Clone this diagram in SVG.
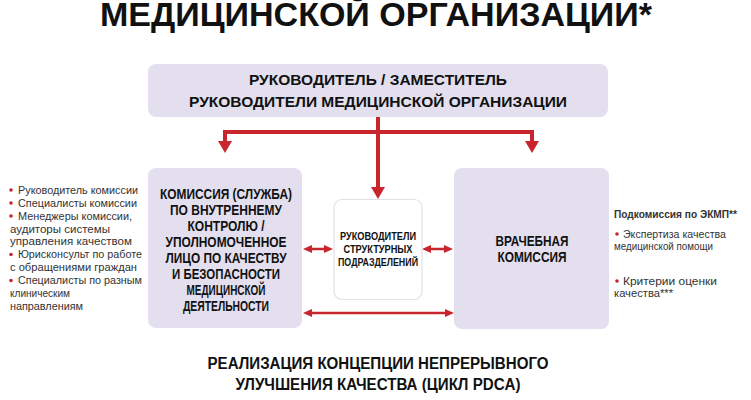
<svg xmlns="http://www.w3.org/2000/svg" width="751" height="400" viewBox="0 0 751 400">
<defs>
<style>
.box{fill:#e3dfee}
.mid{fill:#ffffff;stroke:#e2dfe8;stroke-width:1.2}
.h{font-family:"Liberation Sans",Arial,sans-serif;font-weight:bold;fill:#111;text-anchor:middle}
.l{font-family:"Liberation Sans",Arial,sans-serif;font-size:10.5px;fill:#333}
.b{fill:#c9252c}
.c{stroke:#c9252c;fill:none}
</style>
<marker id="big" markerUnits="userSpaceOnUse" markerWidth="14" markerHeight="14" viewBox="0 0 12 14" refX="0" refY="7" orient="auto"><path d="M0,0 L12,7 L0,14 z" fill="#c9252c"/></marker>
<marker id="sm" markerUnits="userSpaceOnUse" markerWidth="9" markerHeight="8" viewBox="0 0 9 8" refX="0" refY="4" orient="auto-start-reverse"><path d="M0,0 L9,4 L0,8 z" fill="#c9252c"/></marker>
</defs>
<rect width="751" height="400" fill="#ffffff"/>
<text class="h" x="376" y="26" font-size="33" textLength="552" lengthAdjust="spacingAndGlyphs">МЕДИЦИНСКОЙ ОРГАНИЗАЦИИ*</text>

<g id="connectors">
<path class="c" stroke-width="4" d="M378,117 V187"/>
<path class="c" stroke-width="4" d="M223,132 H534"/>
<path class="c" stroke-width="4" d="M225,130 V141" marker-end="url(#big)"/>
<path class="c" stroke-width="4" d="M532,130 V141" marker-end="url(#big)"/>
<path class="c" stroke-width="4" d="M378,130 V187" marker-end="url(#big)"/>
<path class="c" stroke-width="2.5" d="M312,249 H324" marker-start="url(#sm)" marker-end="url(#sm)"/>
<path class="c" stroke-width="2.5" d="M431,249 H444" marker-start="url(#sm)" marker-end="url(#sm)"/>
<path class="c" stroke-width="2.5" d="M312,313 H445" marker-start="url(#sm)" marker-end="url(#sm)"/>
</g>

<g id="top">
<rect class="box" x="148" y="64" width="460" height="53" rx="8"/>
<text class="h" x="378" y="85" font-size="15.5" textLength="258" lengthAdjust="spacingAndGlyphs">РУКОВОДИТЕЛЬ / ЗАМЕСТИТЕЛЬ</text>
<text class="h" x="378" y="107" font-size="15.5" textLength="378" lengthAdjust="spacingAndGlyphs">РУКОВОДИТЕЛИ МЕДИЦИНСКОЙ ОРГАНИЗАЦИИ</text>
</g>

<g id="commission">
<rect class="box" x="148" y="168" width="154" height="160" rx="8"/>
<text class="h" font-size="14">
<tspan x="226" y="199" textLength="132" lengthAdjust="spacingAndGlyphs">КОМИССИЯ (СЛУЖБА)</tspan>
</text>
<text class="h" font-size="14" x="226" y="215" textLength="112" lengthAdjust="spacingAndGlyphs">ПО ВНУТРЕННЕМУ</text>
<text class="h" font-size="14" x="226" y="231" textLength="77" lengthAdjust="spacingAndGlyphs">КОНТРОЛЮ /</text>
<text class="h" font-size="14" x="226" y="247" textLength="121" lengthAdjust="spacingAndGlyphs">УПОЛНОМОЧЕННОЕ</text>
<text class="h" font-size="14" x="226" y="263" textLength="121" lengthAdjust="spacingAndGlyphs">ЛИЦО ПО КАЧЕСТВУ</text>
<text class="h" font-size="14" x="226" y="279" textLength="108" lengthAdjust="spacingAndGlyphs">И БЕЗОПАСНОСТИ</text>
<text class="h" font-size="14" x="226" y="295" textLength="79" lengthAdjust="spacingAndGlyphs">МЕДИЦИНСКОЙ</text>
<text class="h" font-size="14" x="226" y="311" textLength="86" lengthAdjust="spacingAndGlyphs">ДЕЯТЕЛЬНОСТИ</text>
</g>

<g id="heads">
<rect class="mid" x="334" y="199.5" width="88" height="100" rx="8"/>
<text class="h" font-size="10.5" x="378" y="240" textLength="76" lengthAdjust="spacingAndGlyphs">РУКОВОДИТЕЛИ</text>
<text class="h" font-size="10.5" x="378" y="253" textLength="69" lengthAdjust="spacingAndGlyphs">СТРУКТУРНЫХ</text>
<text class="h" font-size="10.5" x="378" y="265.5" textLength="80" lengthAdjust="spacingAndGlyphs">ПОДРАЗДЕЛЕНИЙ</text>
</g>

<g id="medical">
<rect class="box" x="454" y="168" width="155" height="161" rx="8"/>
<text class="h" font-size="14" x="532" y="246" textLength="73" lengthAdjust="spacingAndGlyphs">ВРАЧЕБНАЯ</text>
<text class="h" font-size="14" x="532" y="262" textLength="69" lengthAdjust="spacingAndGlyphs">КОМИССИЯ</text>
</g>

<g id="left-list">
<circle class="b" cx="11" cy="190" r="1.8"/>
<circle class="b" cx="11" cy="203" r="1.8"/>
<circle class="b" cx="11" cy="216" r="1.8"/>
<circle class="b" cx="11" cy="254.5" r="1.8"/>
<circle class="b" cx="11" cy="280.5" r="1.8"/>
<text class="l" x="18" y="193.5" textLength="120" lengthAdjust="spacingAndGlyphs">Руководитель комиссии</text>
<text class="l" x="18" y="206.5" textLength="119" lengthAdjust="spacingAndGlyphs">Специалисты комиссии</text>
<text class="l" x="18" y="219.5" textLength="114" lengthAdjust="spacingAndGlyphs">Менеджеры комиссии,</text>
<text class="l" x="10" y="232.5" textLength="100" lengthAdjust="spacingAndGlyphs">аудиторы системы</text>
<text class="l" x="10" y="245" textLength="122" lengthAdjust="spacingAndGlyphs">управления качеством</text>
<text class="l" x="18" y="258" textLength="124" lengthAdjust="spacingAndGlyphs">Юрисконсульт по работе</text>
<text class="l" x="10" y="271" textLength="127" lengthAdjust="spacingAndGlyphs">с обращениями граждан</text>
<text class="l" x="18" y="284" textLength="124" lengthAdjust="spacingAndGlyphs">Специалисты по разным</text>
<text class="l" x="10" y="296.5" textLength="60" lengthAdjust="spacingAndGlyphs">клиническим</text>
<text class="l" x="10" y="309.5" textLength="73" lengthAdjust="spacingAndGlyphs">направлениям</text>
</g>

<g id="right-list">
<text class="l" x="614" y="217.5" font-weight="bold" fill="#111" textLength="123" lengthAdjust="spacingAndGlyphs">Подкомиссия по ЭКМП**</text>
<circle class="b" cx="617" cy="234" r="1.8"/>
<circle class="b" cx="617" cy="281" r="1.8"/>
<text class="l" x="623" y="237.5" textLength="103" lengthAdjust="spacingAndGlyphs">Экспертиза качества</text>
<text class="l" x="614" y="249.5" textLength="99" lengthAdjust="spacingAndGlyphs">медицинской помощи</text>
<text class="l" x="623" y="284.5" textLength="94" lengthAdjust="spacingAndGlyphs">Критерии оценки</text>
<text class="l" x="614" y="296.5" textLength="59" lengthAdjust="spacingAndGlyphs">качества***</text>
</g>

<g id="footer">
<text class="h" font-size="16" x="378" y="369" textLength="341" lengthAdjust="spacingAndGlyphs">РЕАЛИЗАЦИЯ КОНЦЕПЦИИ НЕПРЕРЫВНОГО</text>
<text class="h" font-size="16" x="378" y="390" textLength="285" lengthAdjust="spacingAndGlyphs">УЛУЧШЕНИЯ КАЧЕСТВА (ЦИКЛ PDCA)</text>
</g>
</svg>
